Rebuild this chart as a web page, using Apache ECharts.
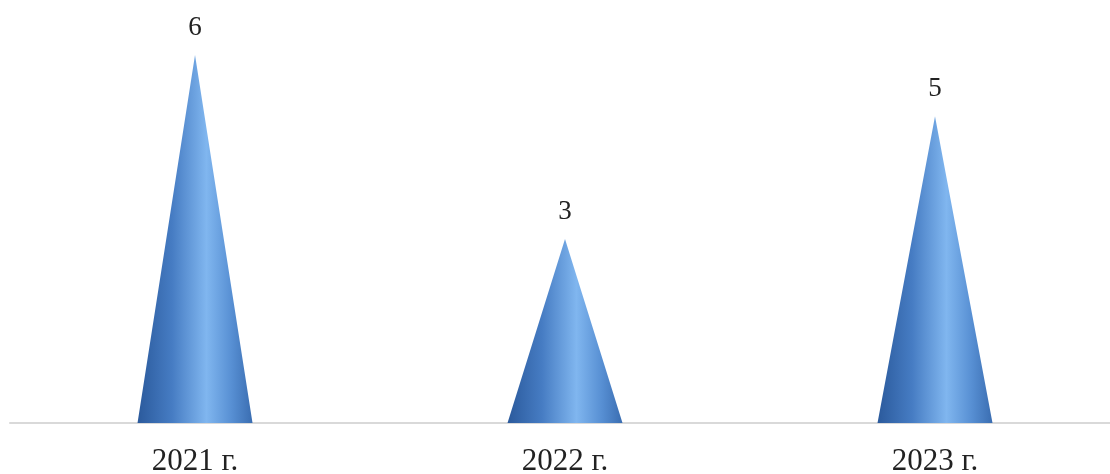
<!DOCTYPE html>
<html>
<head>
<meta charset="utf-8">
<script src="https://cdn.jsdelivr.net/npm/echarts@6/dist/echarts.min.js"></script>
<style>html,body{margin:0;padding:0;background:#fff;overflow:hidden;}#c{width:1110px;height:474px;}</style>
</head>
<body>
<div id="c"></div>
<script>
var categories = ['2021 г.', '2022 г.', '2023 г.'];
var values = [6, 3, 5];

var chart = echarts.init(document.getElementById('c'));
var grad = new echarts.graphic.LinearGradient(0, 0, 1, 0, [
  {offset: 0, color: '#2b5a9c'},
  {offset: 0.3, color: '#467cc3'},
  {offset: 0.6, color: '#80b6ef'},
  {offset: 0.82, color: '#578fd3'},
  {offset: 1, color: '#3a6db1'}
]);
chart.setOption({
  animation: false,
  grid: {left: 10, width: 1110, top: 55, bottom: 51, containLabel: false, outerBoundsMode: 'none'},
  xAxis: {
    type: 'category',
    data: categories,
    axisLine: {show: true, lineStyle: {color: '#d9d9d9', width: 2}},
    axisTick: {show: false},
    axisLabel: {fontFamily: 'Liberation Serif', fontSize: 31, color: '#222', margin: 23}
  },
  yAxis: {
    type: 'value', min: 0, max: 6, interval: 1,
    show: false, splitLine: {show: false}
  },
  series: [{
    type: 'pictorialBar',
    data: values,
    symbol: 'triangle',
    symbolSize: [115, '100%'],
    itemStyle: {color: grad},
    label: {show: true, position: 'top', distance: 14, fontFamily: 'Liberation Serif', fontSize: 27, color: '#222'}
  }]
});
</script>
</body>
</html>
